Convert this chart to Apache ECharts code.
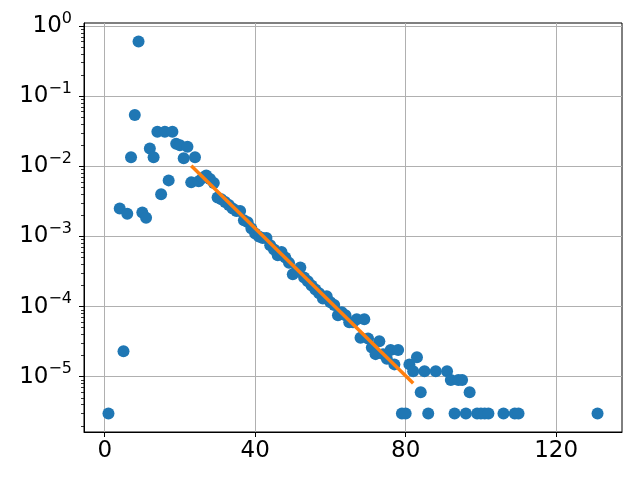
<!DOCTYPE html>
<html><head><meta charset="utf-8">
<script src="https://cdn.jsdelivr.net/npm/echarts@6/dist/echarts.min.js"></script>
<style>html,body{margin:0;padding:0;background:#fff}#c{width:640px;height:480px}</style>
</head><body><div id="c"></div>
<script>
const xValues = [1,4,5,6,7,8,9,10,11,12,13,14,15,16,17,18,19,20,21,22,23,24,25,26,27,28,29,
  30,31,32,33,34,35,36,37,38,39,40,41,42,43,44,45,46,47,48,49,50,51,52,53,54,55,56,57,58,59,
  60,61,62,63,64,65,66,67,68,69,70,71,72,73,74,75,76,77,78,79,80,81,82,83,84,85,86,88,91,92,
  93,94,95,96,97,99,100,101,102,106,109,110,131];
const yValues = [3e-6,2.5e-3,2.3e-5,2.1e-3,0.0135,0.054,0.6,2.2e-3,1.85e-3,0.018,0.0135,0.031,4.0e-3,0.031,6.3e-3,0.031,0.021,0.020,0.013,0.019,5.9e-3,0.0135,6.1e-3,6.8e-3,7.4e-3,6.6e-3,5.8e-3,
  3.6e-3,3.4e-3,3.1e-3,2.8e-3,2.5e-3,2.3e-3,2.3e-3,1.7e-3,1.6e-3,1.3e-3,1.1e-3,1.0e-3,9.5e-4,9.5e-4,7.5e-4,6.5e-4,5.4e-4,6.0e-4,5.0e-4,4.2e-4,2.9e-4,3.2e-4,3.6e-4,2.6e-4,2.3e-4,2.0e-4,1.75e-4,1.55e-4,1.3e-4,1.4e-4,
  1.15e-4,1.05e-4,7.5e-5,8.3e-5,7.5e-5,6.0e-5,6.0e-5,6.6e-5,3.6e-5,6.6e-5,3.5e-5,2.6e-5,2.1e-5,3.2e-5,2.1e-5,1.8e-5,2.4e-5,1.5e-5,2.4e-5,3e-6,3e-6,1.5e-5,1.2e-5,1.9e-5,6e-6,1.2e-5,3e-6,1.2e-5,1.2e-5,9e-6,
  3e-6,9e-6,9e-6,3e-6,6e-6,3e-6,3e-6,3e-6,3e-6,3e-6,3e-6,3e-6,3e-6];
const fitX = [23, 82];
const fitY = [0.0102, 8.1e-6];
const xTickValues = [0, 40, 80, 120];
const yTickValues = [1e-5, 1e-4, 1e-3, 1e-2, 1e-1, 1];

const xMin = -5.5, xMax = 137.5;
const yMin = Math.pow(10, -5.788), yMax = Math.pow(10, 0.043);

const minorTicks = [];
for (let e = -6; e <= 0; e++) {
  for (let m = 2; m <= 9; m++) {
    const v = m * Math.pow(10, e);
    if (v > yMin && v < yMax) minorTicks.push(v);
  }
}

const FONT = 'DejaVu Sans';
function yLabel(v) {
  const l = Math.log10(v);
  const e = Math.round(l);
  if (Math.abs(l - e) > 1e-6) return '';
  const s = e < 0 ? '\u2212' + (-e) : '' + e;
  return '{b|10}{s|' + s + '}';
}

const chart = echarts.init(document.getElementById('c'), null, {renderer: 'canvas'});
chart.setOption({
  animation: false,
  backgroundColor: '#fff',
  grid: {left: 84, right: 18, top: 23, bottom: 48, show: true, borderColor: '#000', borderWidth: 1, backgroundColor: 'transparent'},
  xAxis: {
    type: 'value', min: xMin, max: xMax,
    axisLine: {show: true, onZero: false, lineStyle: {color: '#000', width: 1}},
    axisTick: {show: true, length: 5, customValues: xTickValues, lineStyle: {color: '#000', width: 1}},
    axisLabel: {customValues: xTickValues, margin: 8, color: '#000', fontSize: 23, fontFamily: FONT},
    splitLine: {show: true, lineStyle: {color: '#b0b0b0', width: 1}}
  },
  yAxis: [{
    type: 'log', min: yMin, max: yMax,
    axisLine: {show: true, onZero: false, lineStyle: {color: '#000', width: 1}},
    axisTick: {show: true, length: 5, customValues: yTickValues, lineStyle: {color: '#000', width: 1}},
    axisLabel: {
      customValues: yTickValues, margin: 12, formatter: yLabel,
      rich: {
        b: {fontSize: 23, fontFamily: FONT, color: '#000'},
        s: {fontSize: 16, fontFamily: FONT, color: '#000', padding: [0, 0, 15, 0]}
      }
    },
    splitLine: {show: true, lineStyle: {color: '#b0b0b0', width: 1}}
  }, {
    type: 'log', min: yMin, max: yMax, position: 'left',
    axisLine: {show: false, onZero: false},
    axisTick: {show: true, length: 3, customValues: minorTicks, lineStyle: {color: '#000', width: 0.8}},
    axisLabel: {show: false},
    splitLine: {show: false}
  }],
  series: [{
    type: 'scatter',
    data: xValues.map((x, i) => [x, yValues[i]]),
    symbolSize: 12,
    itemStyle: {color: '#1f77b4', opacity: 1},
    z: 2
  }, {
    type: 'line',
    data: fitX.map((x, i) => [x, fitY[i]]),
    showSymbol: false,
    symbol: 'none',
    lineStyle: {color: '#ff7f0e', width: 3.5},
    z: 3
  }]
});
</script></body></html>
